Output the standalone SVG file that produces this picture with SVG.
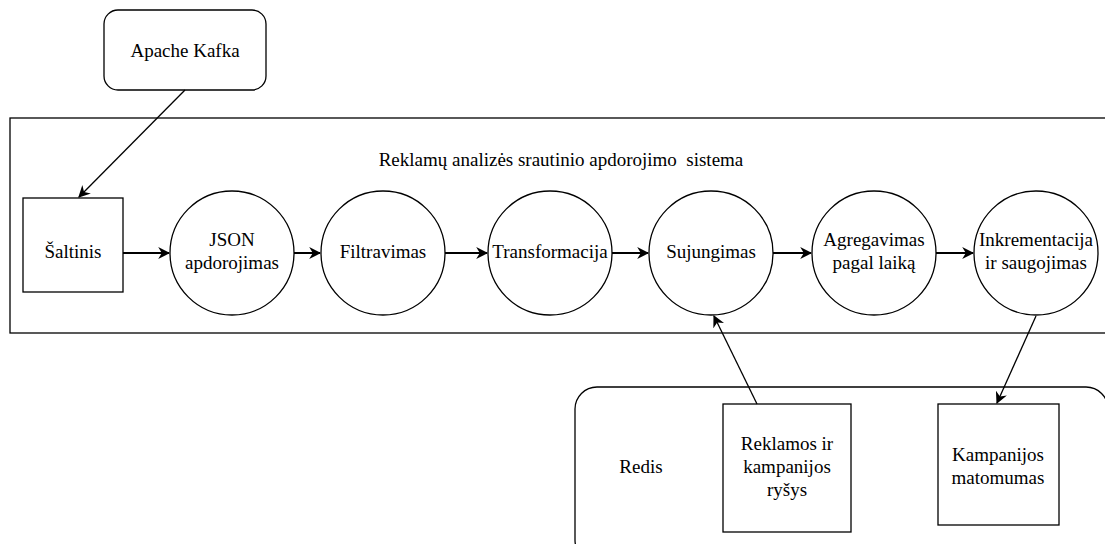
<svg xmlns="http://www.w3.org/2000/svg" width="1105" height="544" viewBox="0 0 1105 544">
<style>
text{font-family:"Liberation Serif","Times New Roman",serif;font-size:19px;fill:#000;text-anchor:middle}
.s{fill:#fff;stroke:#000;stroke-width:1.3}
.c{fill:none;stroke:#000;stroke-width:1.3}
.h{fill:none;stroke:#000;stroke-width:2}
</style>
<defs>
<marker id="b" viewBox="0 0 10 10" refX="9" refY="5" markerWidth="12" markerHeight="12" orient="auto" markerUnits="userSpaceOnUse">
<path d="M0,0 L10,5 L0,10 L3,5 z" fill="#000"/>
</marker>
</defs>
<g id="system">
<rect class="s" x="10" y="118" width="1110" height="215"/>
<text x="561" y="166" xml:space="preserve">Reklamų analizės srautinio apdorojimo  sistema</text>
</g>
<g id="redis">
<rect class="s" x="575" y="387" width="533" height="175" rx="22"/>
<text x="641" y="473">Redis</text>
</g>
<g id="kafka">
<rect class="s" x="104" y="10" width="162" height="80" rx="14"/>
<text x="185" y="57">Apache Kafka</text>
</g>
<g id="saltinis">
<rect class="s" x="23" y="198" width="100" height="94"/>
<text x="73" y="258">Šaltinis</text>
</g>
<g id="json">
<circle class="s" cx="232" cy="253" r="62"/>
<text x="232" y="246">JSON</text>
<text x="232" y="269">apdorojimas</text>
</g>
<g id="filtravimas">
<circle class="s" cx="383" cy="253" r="62"/>
<text x="383" y="258">Filtravimas</text>
</g>
<g id="transformacija">
<circle class="s" cx="550" cy="253" r="62"/>
<text x="550" y="258">Transformacija</text>
</g>
<g id="sujungimas">
<circle class="s" cx="711" cy="253" r="62"/>
<text x="711" y="258">Sujungimas</text>
</g>
<g id="agregavimas">
<circle class="s" cx="874" cy="253" r="62"/>
<text x="874" y="246">Agregavimas</text>
<text x="874" y="269">pagal laiką</text>
</g>
<g id="inkrementacija">
<circle class="s" cx="1036" cy="253" r="62"/>
<text x="1036" y="246">Inkrementacija</text>
<text x="1036" y="269">ir saugojimas</text>
</g>
<g id="reklamos">
<rect class="s" x="723" y="404" width="128" height="128"/>
<text x="787" y="450">Reklamos ir</text>
<text x="787" y="473">kampanijos</text>
<text x="787" y="496">ryšys</text>
</g>
<g id="kampanijos">
<rect class="s" x="938" y="404" width="121" height="121"/>
<text x="998" y="461">Kampanijos</text>
<text x="998" y="484">matomumas</text>
</g>
<g id="connectors">
<line class="c" x1="185" y1="90" x2="79" y2="197" marker-end="url(#b)"/>
<line class="h" x1="123" y1="253" x2="169" y2="253" marker-end="url(#b)"/>
<line class="h" x1="294" y1="253" x2="320" y2="253" marker-end="url(#b)"/>
<line class="h" x1="445" y1="253" x2="487" y2="253" marker-end="url(#b)"/>
<line class="h" x1="612" y1="253" x2="648" y2="253" marker-end="url(#b)"/>
<line class="h" x1="773" y1="253" x2="811" y2="253" marker-end="url(#b)"/>
<line class="h" x1="936" y1="253" x2="973" y2="253" marker-end="url(#b)"/>
<line class="c" x1="757" y1="404" x2="714" y2="316" marker-end="url(#b)"/>
<line class="c" x1="1036" y1="316" x2="997" y2="403" marker-end="url(#b)"/>
</g>
</svg>
